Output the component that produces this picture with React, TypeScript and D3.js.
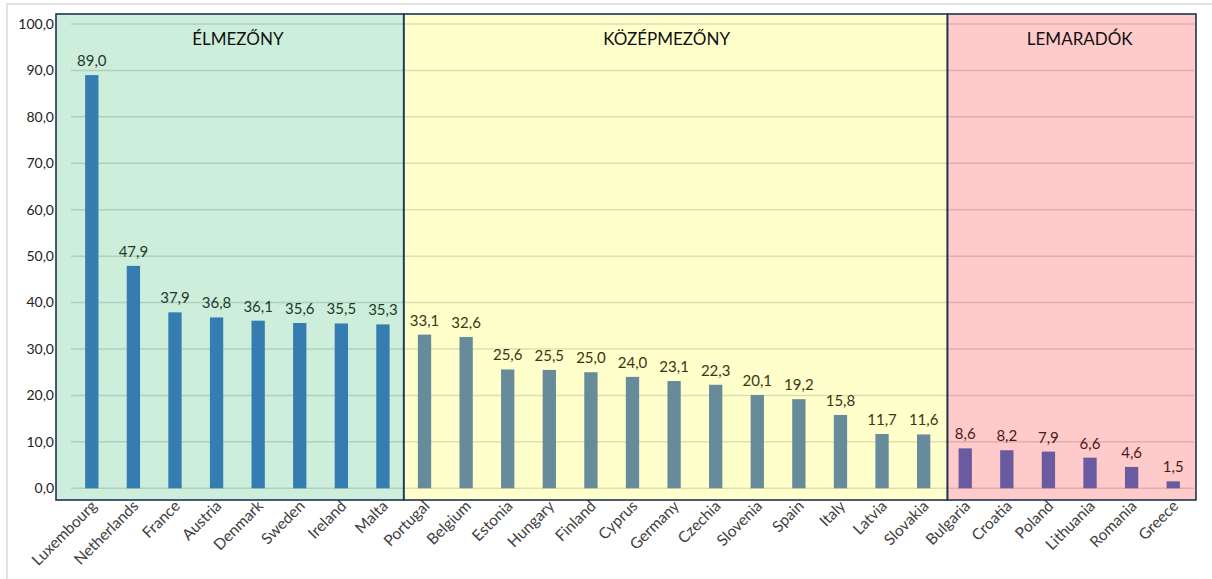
import React from "react";
import * as d3 from "d3";

const categories = [
  "Luxembourg", "Netherlands", "France", "Austria", "Denmark", "Sweden", "Ireland", "Malta",
  "Portugal", "Belgium", "Estonia", "Hungary", "Finland", "Cyprus", "Germany", "Czechia",
  "Slovenia", "Spain", "Italy", "Latvia", "Slovakia",
  "Bulgaria", "Croatia", "Poland", "Lithuania", "Romania", "Greece",
];
const values = [
  89.0, 47.9, 37.9, 36.8, 36.1, 35.6, 35.5, 35.3,
  33.1, 32.6, 25.6, 25.5, 25.0, 24.0, 23.1, 22.3, 20.1, 19.2, 15.8, 11.7, 11.6,
  8.6, 8.2, 7.9, 6.6, 4.6, 1.5,
];
const groupNames = ["ÉLMEZŐNY", "KÖZÉPMEZŐNY", "LEMARADÓK"];
const groupSizes = [8, 13, 6];
const yTicks = [0, 10, 20, 30, 40, 50, 60, 70, 80, 90, 100];

const groupStyles = [
  { fill: "#CCEEDB", bar: "#357DB0", label: "#1E3A2A" },
  { fill: "#FFFFCC", bar: "#678B9B", label: "#3A3610" },
  { fill: "#FFCACA", bar: "#6A5A9F", label: "#4A1818" },
];

const W = 1212;
const H = 579;
const FONT = "Lato, 'Open Sans', sans-serif";

export default function App() {
  const x = d3.scaleBand<string>().domain(categories).range([71, 1194]).paddingInner(0.68).paddingOuter(0.34);
  const y = d3.scaleLinear().domain([0, 100]).range([488.3, 24]);
  const step = x.step();
  const fmt = (v: number) => v.toFixed(1).replace(".", ",");

  const starts: number[] = [];
  let acc = 0;
  groupSizes.forEach((s) => { starts.push(acc); acc += s; });
  const panelTop = 14;
  const panelBottom = 500;
  const panels = groupSizes.map((s, i) => {
    const first = categories[starts[i]];
    const last = categories[starts[i] + s - 1];
    let x0 = x(first)! + x.bandwidth() / 2 - step / 2;
    let x1 = x(last)! + x.bandwidth() / 2 + step / 2;
    if (i === 0) x0 -= 15;
    if (i === 1) x1 += 3;
    if (i === 2) { x0 += 3; x1 += 2; }
    return { x0, x1 };
  });
  const groupOf = (idx: number) => (idx < 8 ? 0 : idx < 21 ? 1 : 2);

  return (
    <svg width={W} height={H} style={{ position: "absolute", left: 0, top: 0, background: "#fff" }} fontFamily={FONT}>
      <rect x={7} y={4} width={W} height={H} fill="#fff" stroke="#D9D9D9" strokeWidth={1.5} />
      {panels.map((p, i) => (
        <rect key={"p" + i} x={p.x0} y={panelTop} width={p.x1 - p.x0} height={panelBottom - panelTop}
          fill={groupStyles[i].fill} />
      ))}
      {yTicks.map((t) => (
        <g key={"g" + t}>
          <line x1={71} x2={1194} y1={y(t)} y2={y(t)} stroke="#000" strokeOpacity={0.13} strokeWidth={1.5} />
          <text x={54} y={y(t)} dy="0.35em" textAnchor="end" fontSize={14} fill="#222">{fmt(t)}</text>
        </g>
      ))}
      {categories.map((c, i) => {
        const g = groupOf(i);
        const cx = x(c)! + x.bandwidth() / 2;
        return (
          <g key={c}>
            <rect x={x(c)} y={y(values[i])} width={x.bandwidth()} height={y(0) - y(values[i])} fill={groupStyles[g].bar} />
            <text x={cx} y={y(values[i]) - 9} textAnchor="middle" fontSize={15} fill={groupStyles[g].label}>{fmt(values[i])}</text>
            <text transform={`translate(${cx + 6},${507}) rotate(-45)`} textAnchor="end" fontSize={15.5} fill="#404040">{c}</text>
          </g>
        );
      })}
      {panels.map((p, i) => (
        <g key={"b" + i}>
          <rect x={p.x0} y={panelTop} width={p.x1 - p.x0} height={panelBottom - panelTop}
            fill="none" stroke="#1F3355" strokeWidth={1.6} />
          <text x={(p.x0 + p.x1) / 2 + (i === 1 ? -9 : 8)} y={45} textAnchor="middle" fontSize={17} fill="#111">{groupNames[i]}</text>
        </g>
      ))}
    </svg>
  );
}
